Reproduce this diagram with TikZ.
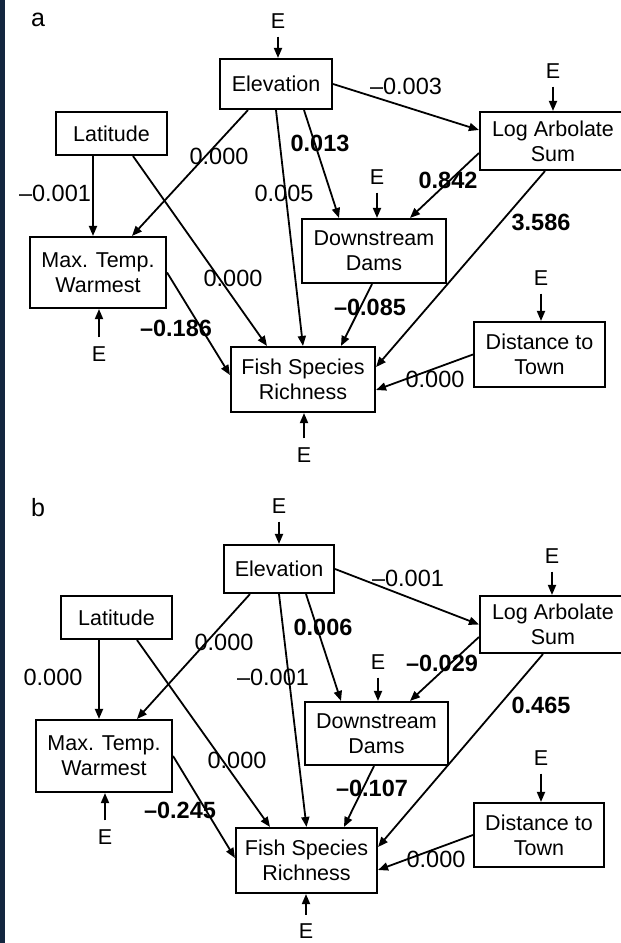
\documentclass[tikz,border=0pt]{standalone}
\usepackage{fontspec}
\setmainfont{Liberation Sans}
\usetikzlibrary{arrows.meta,calc}
\definecolor{navy}{HTML}{13263F}
\newcommand\boxfont{\fontsize{21.5}{25}\selectfont}
\newcommand\numfont{\fontsize{23.5}{27}\selectfont}
\tikzset{
  box/.style={draw, line width=2.1pt, align=center, inner sep=0pt, font=\boxfont},
  arr/.style={line width=1.8pt, -{Triangle[length=10pt,width=8pt]}},
  lbl/.style={inner sep=0pt, font=\numfont},
  lblb/.style={inner sep=0pt, font=\numfont\bfseries},
  elab/.style={inner sep=0pt, font=\fontsize{21.5}{25}\selectfont},
  panel/.style={inner sep=0pt, font=\fontsize{25}{30}\selectfont},
  eabove/.style={arr, shorten <=8pt},
  ebelow/.style={arr, shorten <=9pt}
}
\begin{document}
\begin{tikzpicture}[x=1pt,y=-1pt]
\useasboundingbox (0,0) rectangle (621,943);
\fill[white] (0,0) rectangle (621,943);
\fill[navy] (0,0) rectangle (4.5,943);

% ---------------- panel a ----------------
\node[panel] (pa) at (38,20) {a};
\node[box, minimum width=112pt, minimum height=50pt] (aElev) at (276,84) {Elevation};
\node[box, minimum width=111pt, minimum height=43pt] (aLat) at (111.5,133.5) {Latitude};
\node[box, minimum width=146pt, minimum height=58pt] (aLog) at (553,141) {Log Arbolate\\Sum};
\node[box, minimum width=136pt, minimum height=71pt] (aMax) at (98,272.5) {Max. Temp.\\Warmest};
\node[box, minimum width=144pt, minimum height=64pt] (aDown) at (374,251) {Downstream\\Dams};
\node[box, minimum width=144pt, minimum height=65pt] (aFish) at (303,379.5) {Fish Species\\Richness};
\node[box, minimum width=131pt, minimum height=65pt] (aDist) at (539.5,354.5) {Distance to\\Town};

\draw[arr] (aElev.east) -- ([yshift=11pt]aLog.west);
\draw[arr] ([xshift=28pt]aElev.south) -- ([xshift=-35pt]aDown.north);
\draw[arr] (aElev.south) -- (aFish.north);
\draw[arr] ([xshift=-28pt]aElev.south) -- ([xshift=34pt]aMax.north);
\draw[arr] ([xshift=-18.5pt]aLat.south) -- ([xshift=-18.5pt]aLat.south |- aMax.north);
\draw[arr] ([xshift=21.5pt]aLat.south) -- ([xshift=-36pt]aFish.north);
\draw[arr] (aMax.east) -- ([yshift=4.5pt]aFish.west);
\draw[arr] ([yshift=-12pt]aLog.west) -- ([xshift=36pt]aDown.north);
\draw[arr] ([xshift=-8pt]aLog.south) -- ([yshift=12.5pt]aFish.east);
\draw[arr] ([xshift=-2pt]aDown.south) -- ([xshift=38pt]aFish.north);
\draw[arr] (aDist.west) -- ([yshift=-10.5pt]aFish.east);

\node[elab] (aE1) at (278,21) {E};
\draw[eabove] (aE1.south) -- (aE1.south |- aElev.north);
\node[elab] (aE2) at (553,71) {E};
\draw[eabove] (aE2.south) -- (aE2.south |- aLog.north);
\node[elab] (aE3) at (377,177) {E};
\draw[eabove] (aE3.south) -- (aE3.south |- aDown.north);
\node[elab] (aE4) at (541,278) {E};
\draw[eabove] (aE4.south) -- (aE4.south |- aDist.north);
\node[elab] (aE5) at (99,354) {E};
\draw[ebelow] (aE5.north) -- (aE5.north |- aMax.south);
\node[elab] (aE6) at (304,455) {E};
\draw[ebelow] (aE6.north) -- (aE6.north |- aFish.south);

\node[lbl] (la1) at (406,86) {–0.003};
\node[lbl] (la2) at (219,156) {0.000};
\node[lbl] (la3) at (55,193) {–0.001};
\node[lbl] (la4) at (284,193) {0.005};
\node[lblb] (la5) at (320,143) {0.013};
\node[lblb] (la6) at (448,180) {0.842};
\node[lblb] (la7) at (541,222) {3.586};
\node[lbl] (la8) at (233,278) {0.000};
\node[lblb] (la9) at (176,328) {–0.186};
\node[lblb] (la10) at (370,307) {–0.085};
\node[lbl] (la11) at (435,379) {0.000};

% ---------------- panel b ----------------
\node[panel] (pb) at (38,508) {b};
\node[box, minimum width=110pt, minimum height=48pt] (bElev) at (279,569) {Elevation};
\node[box, minimum width=111pt, minimum height=43pt] (bLat) at (116.5,617.5) {Latitude};
\node[box, minimum width=146pt, minimum height=57pt] (bLog) at (553,624.5) {Log Arbolate\\Sum};
\node[box, minimum width=136pt, minimum height=72pt] (bMax) at (104,756) {Max. Temp.\\Warmest};
\node[box, minimum width=143pt, minimum height=63pt] (bDown) at (376.5,733.5) {Downstream\\Dams};
\node[box, minimum width=141pt, minimum height=65pt] (bFish) at (306.5,860.5) {Fish Species\\Richness};
\node[box, minimum width=130pt, minimum height=64pt] (bDist) at (539,835) {Distance to\\Town};

\draw[arr] (bElev.east) -- (bLog.west);
\draw[arr] ([xshift=27pt]bElev.south) -- ([xshift=-35.5pt]bDown.north);
\draw[arr] (bElev.south) -- (bFish.north);
\draw[arr] ([xshift=-29pt]bElev.south) -- ([xshift=33pt]bMax.north);
\draw[arr] ([xshift=-17.5pt]bLat.south) -- ([xshift=-17.5pt]bLat.south |- bMax.north);
\draw[arr] ([xshift=20.5pt]bLat.south) -- ([xshift=-36.5pt]bFish.north);
\draw[arr] (bMax.east) -- ([yshift=2.5pt]bFish.west);
\draw[arr] ([yshift=-12.5pt]bLog.west) -- ([xshift=33.5pt]bDown.north);
\draw[arr] ([xshift=-10pt]bLog.south) -- ([yshift=13.5pt]bFish.east);
\draw[arr] ([xshift=-2.5pt]bDown.south) -- ([xshift=37.5pt]bFish.north);
\draw[arr] (bDist.west) -- ([yshift=-9.5pt]bFish.east);

\node[elab] (bE1) at (279,506) {E};
\draw[eabove] (bE1.south) -- (bE1.south |- bElev.north);
\node[elab] (bE2) at (552,556) {E};
\draw[eabove] (bE2.south) -- (bE2.south |- bLog.north);
\node[elab] (bE3) at (378,662) {E};
\draw[eabove] (bE3.south) -- (bE3.south |- bDown.north);
\node[elab] (bE4) at (541,758) {E};
\draw[eabove] (bE4.south) -- (bE4.south |- bDist.north);
\node[elab] (bE5) at (105,837) {E};
\draw[ebelow] (bE5.north) -- (bE5.north |- bMax.south);
\node[elab] (bE6) at (306,931.5) {E};
\draw[ebelow] (bE6.north) -- (bE6.north |- bFish.south);

\node[lbl] (lb1) at (408,578) {–0.001};
\node[lbl] (lb2) at (224,642) {0.000};
\node[lbl] (lb3) at (53,677) {0.000};
\node[lblb] (lb4) at (323,627) {0.006};
\node[lbl] (lb5) at (273,677) {–0.001};
\node[lblb] (lb6) at (442,663) {–0.029};
\node[lblb] (lb7) at (541,705) {0.465};
\node[lbl] (lb8) at (237,760) {0.000};
\node[lblb] (lb9) at (180,810) {–0.245};
\node[lblb] (lb10) at (372,788) {–0.107};
\node[lbl] (lb11) at (436,859) {0.000};
\end{tikzpicture}
\end{document}
